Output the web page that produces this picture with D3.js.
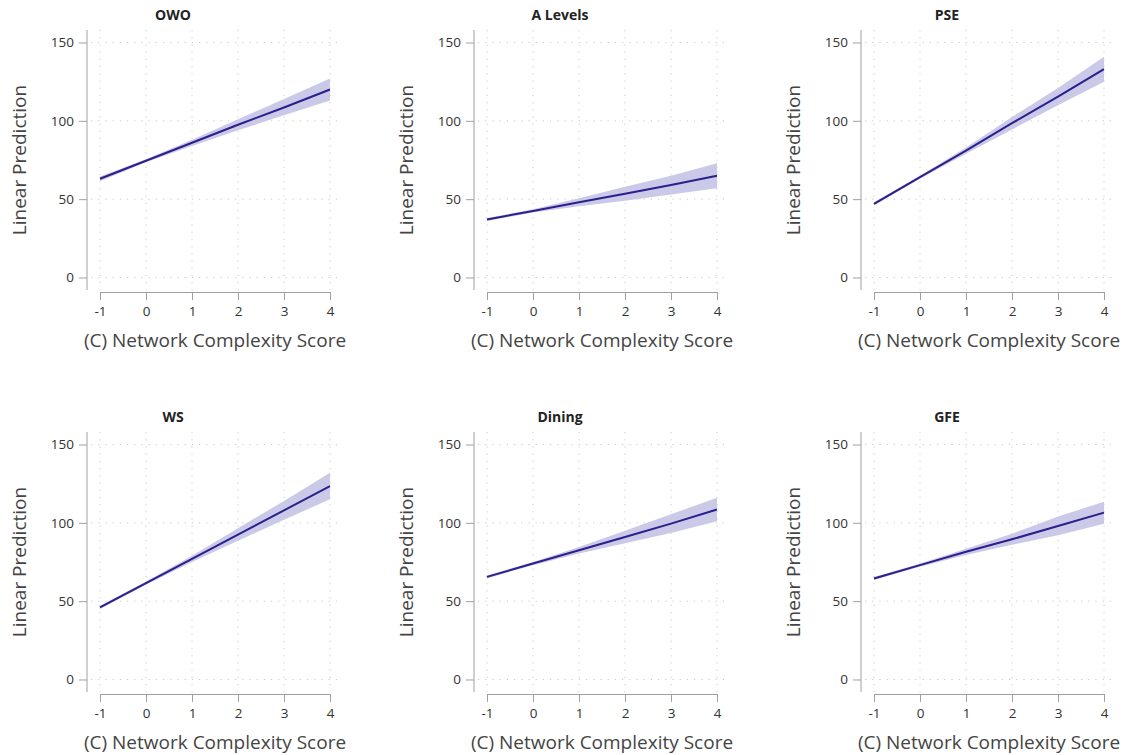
<!DOCTYPE html>
<html>
<head>
<meta charset="utf-8">
<script src="https://cdn.jsdelivr.net/npm/d3@7"></script>
<style>
  body { margin: 0; background: #fff; }
  text { font-family: "Open Sans", "Noto Sans", sans-serif; }
  .axis path, .axis line { stroke: #a0a0a0; }
  .axis text { fill: #333; font-size: 13.5px; }
  .grid line { stroke: #c8c8c8; stroke-dasharray: 1.2 6; }
</style>
</head>
<body>
<div id="chart"></div>
<script>
// x values and tick labels
var xValues = [-1, 0, 1, 2, 3, 4];
var yTicks = [0, 50, 100, 150];

// panel titles
var panelNames = ['OWO', 'A Levels', 'PSE', 'WS', 'Dining', 'GFE'];

// predicted values (line)
var fitOWO    = [63, 74.5, 86, 97.5, 108.5, 120];
var fitALev   = [37, 42.5, 48, 53.5, 59, 65];
var fitPSE    = [47, 64, 81, 98.5, 115.5, 133];
var fitWS     = [46, 61.5, 77, 92.5, 108, 123.5];
var fitDining = [65.5, 74, 82.5, 91, 99.5, 108.5];
var fitGFE    = [64.5, 73, 81.5, 89.5, 98, 106.5];

// lower confidence bounds
var loOWO    = [61.5, 73.5, 84, 94, 103.5, 113];
var loALev   = [36, 41.5, 45.5, 49, 53, 57];
var loPSE    = [46, 63, 79, 94.5, 110, 125];
var loWS     = [45, 60.5, 75, 88.5, 102, 115];
var loDining = [64.5, 73, 80.5, 87, 93.5, 101];
var loGFE    = [63.5, 72, 79.5, 86, 92, 99.5];

// upper confidence bounds
var hiOWO    = [64.5, 75.5, 88, 101, 114, 127];
var hiALev   = [38, 43.5, 50.5, 58, 65, 73];
var hiPSE    = [48, 65, 83, 102.5, 121, 141];
var hiWS     = [47, 62.5, 79, 96.5, 114, 132];
var hiDining = [66.5, 75, 84.5, 95, 105.5, 116];
var hiGFE    = [65.5, 74, 83.5, 93, 104, 113.5];

var fits = [fitOWO, fitALev, fitPSE, fitWS, fitDining, fitGFE];
var los  = [loOWO, loALev, loPSE, loWS, loDining, loGFE];
var his  = [hiOWO, hiALev, hiPSE, hiWS, hiDining, hiGFE];

var svgWidth = 1127;
var svgHeight = 755;

var svg = d3.select('#chart')
    .append('svg')
    .attr('width', svgWidth)
    .attr('height', svgHeight);

// panel placement (y axis line position / top of plot)
var colX = [87, 474, 861];
var rowY = [30, 432];
var plotH = 260;

panelNames.forEach(function(name, i) {
    var col = i % 3, row = Math.floor(i / 3);
    var g = svg.append('g')
        .attr('transform', `translate(${colX[col]},${rowY[row]})`);

    var x = d3.scaleLinear().domain([-1, 4]).range([13, 243]);
    var y = d3.scaleLinear().domain([-8, 158]).range([plotH, 0]);

    // dotted grid
    var grid = g.append('g').attr('class', 'grid');
    grid.selectAll('.hg')
        .data(yTicks)
        .enter().append('line')
        .attr('x1', 4).attr('x2', 253)
        .attr('y1', d => y(d)).attr('y2', d => y(d));
    grid.selectAll('.vg')
        .data(xValues)
        .enter().append('line')
        .attr('x1', d => x(d)).attr('x2', d => x(d))
        .attr('y1', 0).attr('y2', plotH);

    // confidence band
    var band = d3.area()
        .x((d, j) => x(xValues[j]))
        .y0((d, j) => y(los[i][j]))
        .y1((d, j) => y(his[i][j]));
    g.append('path')
        .datum(fits[i])
        .attr('d', band)
        .attr('fill', '#cacae8');

    // prediction line
    var line = d3.line()
        .x((d, j) => x(xValues[j]))
        .y(d => y(d));
    g.append('path')
        .datum(fits[i])
        .attr('d', line)
        .attr('fill', 'none')
        .attr('stroke', '#2a1f8c')
        .attr('stroke-width', 2);

    // axes
    g.append('g')
        .attr('class', 'axis')
        .call(d3.axisLeft(y).tickValues(yTicks).tickSize(8).tickPadding(5).tickSizeOuter(0))
        .call(a => a.select('.domain').attr('d', `M0,0V${plotH}`));

    g.append('g')
        .attr('class', 'axis')
        .attr('transform', `translate(0,${plotH + 2})`)
        .call(d3.axisBottom(x).tickValues(xValues).tickFormat(d => String(d)).tickSize(8).tickPadding(6).tickSizeOuter(0));

    // titles
    g.append('text')
        .attr('x', 86)
        .attr('y', -10)
        .attr('text-anchor', 'middle')
        .style('font-size', '14px')
        .style('font-weight', 'bold')
        .style('fill', '#222')
        .text(name);

    g.append('text')
        .attr('transform', `translate(-61,${plotH / 2}) rotate(-90)`)
        .attr('text-anchor', 'middle')
        .style('font-size', '19px')
        .style('fill', '#444')
        .text('Linear Prediction');

    g.append('text')
        .attr('x', 128)
        .attr('y', plotH + 57)
        .attr('text-anchor', 'middle')
        .style('font-size', '19px')
        .style('fill', '#444')
        .text('(C) Network Complexity Score');
});
</script>
</body>
</html>
